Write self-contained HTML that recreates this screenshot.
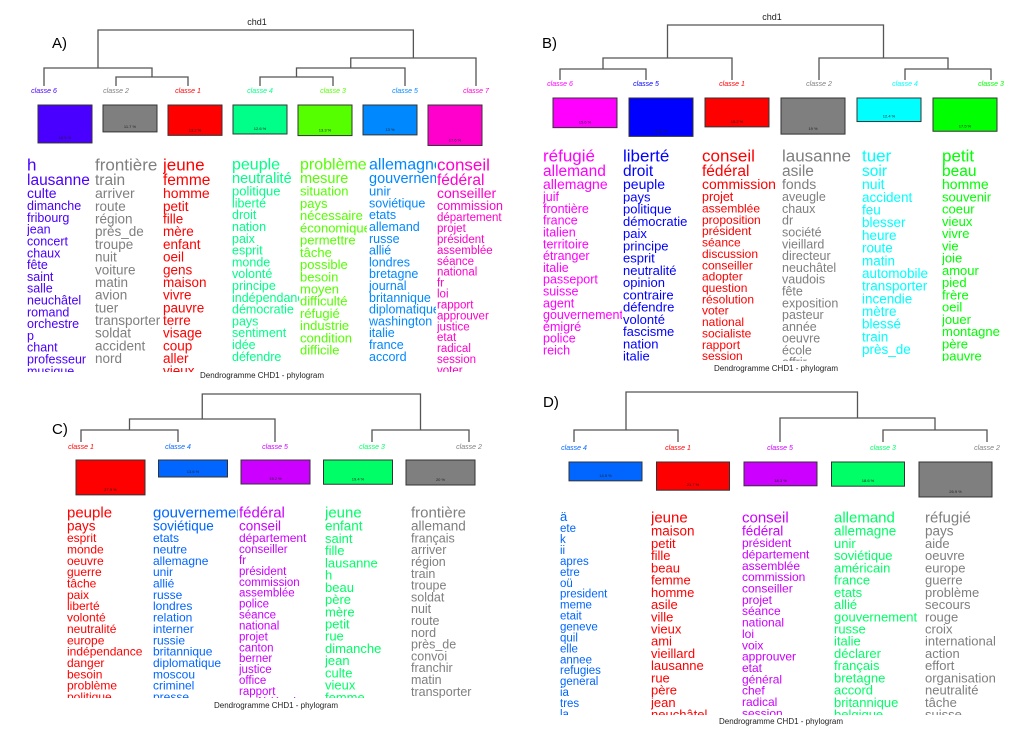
<!DOCTYPE html>
<html><head><meta charset="utf-8"><style>
html,body{margin:0;padding:0;background:#fff}
svg{display:block;font-family:"Liberation Sans",sans-serif}
</style></head><body>
<svg id="fig" width="1024" height="737" viewBox="0 0 1024 737" xmlns="http://www.w3.org/2000/svg"></svg>
<script>
// ---------- DATA ----------
const panelALabels = ["classe 6","classe 2","classe 1","classe 4","classe 3","classe 5","classe 7"];
const panelAPcts = [16.5,11.7,13.2,12.6,13.3,13,17.6];
const panelAColors = ["#4a00ff","#7f7f7f","#ff0000","#00ff88","#55ff00","#0088ff","#ff00cc"];
const panelAWords = [
 ["h","lausanne","culte","dimanche","fribourg","jean","concert","chaux","fête","saint","salle","neuchâtel","romand","orchestre","p","chant","professeur","musique"],
 ["frontière","train","arriver","route","région","près_de","troupe","nuit","voiture","matin","avion","tuer","transporter","soldat","accident","nord"],
 ["jeune","femme","homme","petit","fille","mère","enfant","oeil","gens","maison","vivre","pauvre","terre","visage","coup","aller","vieux"],
 ["peuple","neutralité","politique","liberté","droit","nation","paix","esprit","monde","volonté","principe","indépendance","démocratie","pays","sentiment","idée","défendre"],
 ["problème","mesure","situation","pays","nécessaire","économique","permettre","tâche","possible","besoin","moyen","difficulté","réfugié","industrie","condition","difficile"],
 ["allemagne","gouvernement","unir","soviétique","etats","allemand","russe","allié","londres","bretagne","journal","britannique","diplomatique","washington","italie","france","accord"],
 ["conseil","fédéral","conseiller","commission","département","projet","président","assemblée","séance","national","fr","loi","rapport","approuver","justice","etat","radical","session","voter"]
];
const panelBLabels = ["classe 6","classe 5","classe 1","classe 2","classe 4","classe 3"];
const panelBPcts = [15.6,20.2,15.2,19,12.4,17.5];
const panelBColors = ["#ff00ff","#0000ff","#ff0000","#7f7f7f","#00ffff","#00ff00"];
const panelBWords = [
 ["réfugié","allemand","allemagne","juif","frontière","france","italien","territoire","étranger","italie","passeport","suisse","agent","gouvernement","émigré","police","reich"],
 ["liberté","droit","peuple","pays","politique","démocratie","paix","principe","esprit","neutralité","opinion","contraire","défendre","volonté","fascisme","nation","italie"],
 ["conseil","fédéral","commission","projet","assemblée","proposition","président","séance","discussion","conseiller","adopter","question","résolution","voter","national","socialiste","rapport","session"],
 ["lausanne","asile","fonds","aveugle","chaux","dr","société","vieillard","directeur","neuchâtel","vaudois","fête","exposition","pasteur","année","oeuvre","école","offrir"],
 ["tuer","soir","nuit","accident","feu","blesser","heure","route","matin","automobile","transporter","incendie","mètre","blessé","train","près_de"],
 ["petit","beau","homme","souvenir","coeur","vieux","vivre","vie","joie","amour","pied","frère","oeil","jouer","montagne","père","pauvre"]
];
const panelCLabels = ["classe 1","classe 4","classe 5","classe 3","classe 2"];
const panelCPcts = [27.9,13.6,19.2,19.4,20];
const panelCColors = ["#ff0000","#0066ff","#cc00ff","#00ff66","#7f7f7f"];
const panelCWords = [
 ["peuple","pays","esprit","monde","oeuvre","guerre","tâche","paix","liberté","volonté","neutralité","europe","indépendance","danger","besoin","problème","politique","économique"],
 ["gouvernement","soviétique","etats","neutre","allemagne","unir","allié","russe","londres","relation","interner","russie","britannique","diplomatique","moscou","criminel","presse"],
 ["fédéral","conseil","département","conseiller","fr","président","commission","assemblée","police","séance","national","projet","canton","berner","justice","office","rapport","confédération","comité"],
 ["jeune","enfant","saint","fille","lausanne","h","beau","père","mère","petit","rue","dimanche","jean","culte","vieux","femme"],
 ["frontière","allemand","français","arriver","région","train","troupe","soldat","nuit","route","nord","près_de","convoi","franchir","matin","transporter","village"]
];
const panelDLabels = ["classe 4","classe 1","classe 5","classe 3","classe 2"];
const panelDPcts = [14.5,21.7,18.3,18.6,26.9];
const panelDColors = ["#0066ff","#ff0000","#cc00ff","#00ff66","#7f7f7f"];
const panelDWords = [
 ["ä","ete","k","ii","apres","etre","oü","president","meme","etait","geneve","quil","elle","annee","refugies","general","ia","tres","la"],
 ["jeune","maison","petit","fille","beau","femme","homme","asile","ville","vieux","ami","vieillard","lausanne","rue","père","jean","neuchâtel"],
 ["conseil","fédéral","président","département","assemblée","commission","conseiller","projet","séance","national","loi","voix","approuver","etat","général","chef","radical","session","justice"],
 ["allemand","allemagne","unir","soviétique","américain","france","etats","allié","gouvernement","russe","italie","déclarer","français","bretagne","accord","britannique","belgique"],
 ["réfugié","pays","aide","oeuvre","europe","guerre","problème","secours","rouge","croix","international","action","effort","organisation","neutralité","tâche","suisse"]
];

// ---------- LAYOUT ----------
const panels = [
 {id:"a", tag:"A)", tagX:52, tagY:48, title:"chd1", titleX:257, titleY:25,
  labels:panelALabels, pcts:panelAPcts, colors:panelAColors, words:panelAWords,
  leafX:[44,116,188,260,333,405,476], leafBottom:86, labelY:93,
  merges:[[1,2,77],[0,-1,68],[3,4,77],[-3,5,68],[-4,6,58],[-2,-5,30]],
  boxX0:38, boxStep:65, boxW:54, boxTop:105, boxK:2.3, wordX:[27,95,163,232,300,369,437], colW:67, wordTop:157, clipBottom:372,
  sizes:[[17,12.5],[17,13.5],[17,13.5],[16,12.5],[16,13],[16,12.5],[17,11.5]], caption:378, capX:262},
 {id:"b", tag:"B)", tagX:542, tagY:48, title:"chd1", titleX:772, titleY:20,
  labels:panelBLabels, pcts:panelBPcts, colors:panelBColors, words:panelBWords,
  leafX:[560,646,732,819,905,991], leafBottom:80, labelY:86,
  merges:[[0,1,69],[-1,2,58],[4,5,69],[3,-3,58],[-2,-4,25]],
  boxX0:553, boxStep:76, boxW:64, boxTop:98, boxK:1.9, wordX:[543,623,702,782,862,942], colW:79, wordTop:148, clipBottom:361,
  sizes:[[17,12.5],[17,13],[17,12],[17,12.5],[17,13.5],[17,13]], caption:371, capX:776},
 {id:"c", tag:"C)", tagX:52, tagY:434, title:"", titleX:0, titleY:0,
  labels:panelCLabels, pcts:panelCPcts, colors:panelCColors, words:panelCWords,
  leafX:[81,178,275,372,469], leafBottom:442, labelY:449,
  merges:[[0,1,430],[-1,2,419],[3,4,430],[-2,-3,394]],
  boxX0:76, boxStep:82.5, boxW:69, boxTop:460, boxK:1.25, wordX:[67,153,239,325,411], colW:85, wordTop:506, clipBottom:698,
  sizes:[[15,12],[15,12],[15,11.5],[15,13],[15,12.5]], caption:708, capX:276},
 {id:"d", tag:"D)", tagX:543, tagY:407, title:"", titleX:0, titleY:0,
  labels:panelDLabels, pcts:panelDPcts, colors:panelDColors, words:panelDWords,
  leafX:[574,678,780,883,987], leafBottom:442, labelY:450,
  merges:[[0,1,430],[3,4,430],[2,-2,418],[-1,-3,392]],
  boxX0:569, boxStep:87.5, boxW:73, boxTop:462, boxK:1.3, wordX:[560,651,742,834,925], colW:90, wordTop:511, clipBottom:715,
  sizes:[[13,11.5],[15,13],[15,12],[15,13],[15,13]], caption:724, capX:781}
];

const NS="http://www.w3.org/2000/svg";
const svg=document.getElementById('fig');
const defs=document.createElementNS(NS,'defs');svg.appendChild(defs);
function mk(tag,attrs,parent){const e=document.createElementNS(NS,tag);for(const k in attrs)e.setAttribute(k,attrs[k]);(parent||svg).appendChild(e);return e;}

panels.forEach(p=>{
  const g=mk('g',{});
  
  
  const tag=mk('text',{x:p.tagX,y:p.tagY,'font-size':15,fill:'#000'},g);tag.textContent=p.tag;
  
  
  if(p.title){const t=mk('text',{x:p.titleX,y:p.titleY,'font-size':9,'text-anchor':'middle',fill:'#222'},g);t.textContent=p.title;
    
    }
  const nodeX=[],nodeY=[];
  const getX=i=>i>=0?p.leafX[i]:nodeX[-i-1];
  const getY=i=>i>=0?p.leafBottom:nodeY[-i-1];
  p.merges.forEach((m,k)=>{
    const xa=getX(m[0]),xb=getX(m[1]),y=m[2];
    nodeX[k]=(xa+xb)/2;nodeY[k]=y;
    const path=mk('path',{d:`M${xa},${getY(m[0])}V${y}H${xb}V${getY(m[1])}`,fill:'none',stroke:'#555','stroke-width':1.3},g);
    
    
  });
  p.labels.forEach((lab,i)=>{
    const cx=p.leafX[i];
    const t=mk('text',{x:cx,y:p.labelY,'font-size':7,'font-style':'italic','text-anchor':'middle',fill:p.colors[i]},g);
    t.textContent=lab.replace(' ','  ');t.setAttribute('xml:space','preserve');
    
    
    const h=p.pcts[i]*p.boxK;
    const bx=p.boxX0+i*p.boxStep;
    const r=mk('rect',{x:bx,y:p.boxTop,width:p.boxW,height:h,fill:p.colors[i],stroke:'#333','stroke-width':1},g);
    
    
    const pt=mk('text',{x:bx+p.boxW/2,y:p.boxTop+h-4,'font-size':4,'text-anchor':'middle',fill:'#222'},g);
    pt.textContent=p.pcts[i]+' %';
    
    
    const cid='clip-'+p.id+'-'+i;
    const cp=mk('clipPath',{id:cid},defs);
    mk('rect',{x:p.wordX[i],y:p.wordTop-5,width:p.colW,height:p.clipBottom-p.wordTop+5},cp);
    const wg=mk('g',{'clip-path':`url(#${cid})`},g);
    
    
    let y=p.wordTop;
    const [big,base]=p.sizes[i];
    p.words[i].forEach((w,j)=>{
      const s=Math.max(base,big-j*1.5);
      const wt=mk('text',{x:p.wordX[i],y:y+s*0.78,'font-size':s,fill:p.colors[i]},wg);
      wt.textContent=w;
      
      
      y+=s*0.88+0.8;
    });
  });
  const cap=mk('text',{x:p.capX,y:p.caption,'font-size':8,'text-anchor':'middle',fill:'#222'},g);
  cap.textContent='Dendrogramme CHD1 - phylogram';
  
  
});
</script>
</body></html>
